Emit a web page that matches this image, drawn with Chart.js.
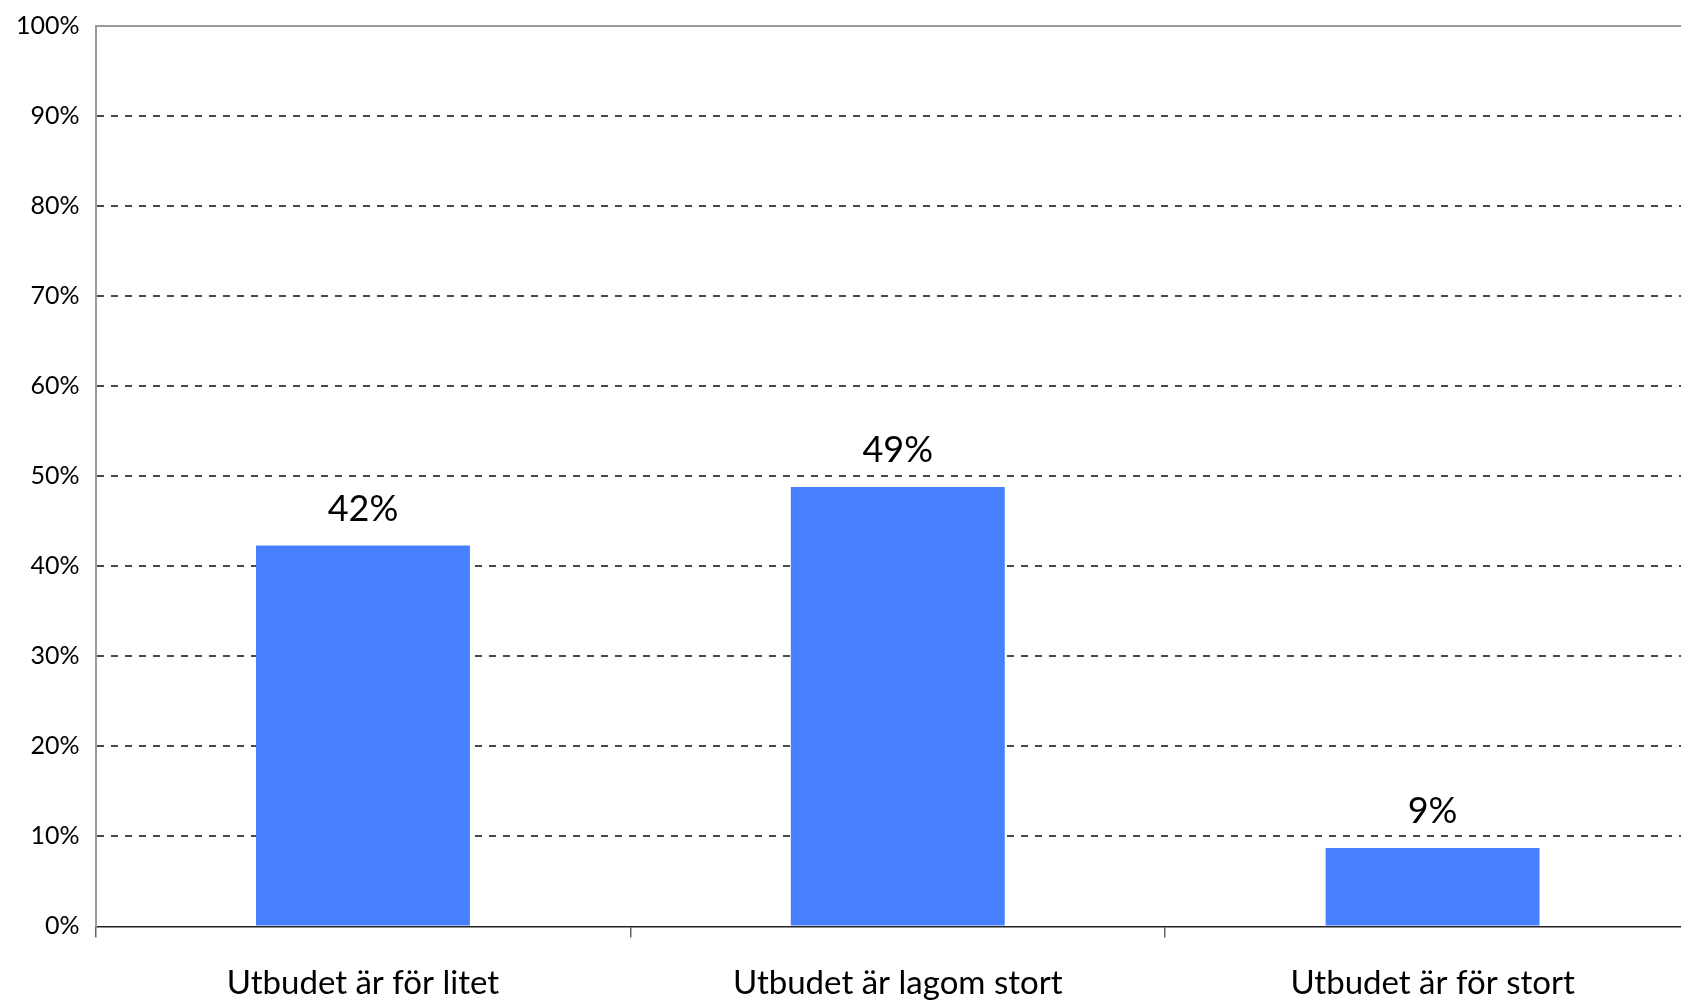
<!DOCTYPE html>
<html><head><meta charset="utf-8">
<script src="https://cdn.jsdelivr.net/npm/chart.js@4/dist/chart.umd.min.js"></script>
<style>
html,body{margin:0;padding:0;background:#fff;overflow:hidden;}
#wrap{position:absolute;left:0;top:0;width:1700px;height:1003px;}
</style></head><body>
<div id="wrap"><canvas id="c"></canvas></div>
<script>
const categories = ["Utbudet är för litet", "Utbudet är lagom stort", "Utbudet är för stort"];
const values = [42.3, 48.8, 8.7];
const valueLabels = ["42%", "49%", "9%"];
const yTicks = [0, 10, 20, 30, 40, 50, 60, 70, 80, 90, 100];

const FONT = "Lato, 'Open Sans', sans-serif";

const labelPlugin = {
  id: 'valueLabels',
  afterDatasetsDraw(chart) {
    const ctx = chart.ctx;
    const meta = chart.getDatasetMeta(0);
    ctx.save();
    ctx.font = "36px " + FONT;
    ctx.fillStyle = "#000";
    ctx.textAlign = "center";
    ctx.textBaseline = "alphabetic";
    meta.data.forEach((bar, i) => {
      ctx.fillText(valueLabels[i], bar.x, bar.y - 25);
    });
    ctx.restore();
  },
  beforeDatasetsDraw(chart) {
    const {ctx, chartArea} = chart;
    ctx.save();
    ctx.strokeStyle = "#9a9a9a";
    ctx.lineWidth = 2;
    ctx.beginPath();
    ctx.moveTo(chartArea.left, chartArea.top);
    ctx.lineTo(chartArea.right, chartArea.top);
    ctx.stroke();
    ctx.restore();
  }
};

new Chart(document.getElementById('c'), {
  type: 'bar',
  data: {
    labels: categories,
    datasets: [{
      data: values,
      backgroundColor: '#4680ff',
      borderWidth: 0,
      barPercentage: 0.4,
      categoryPercentage: 1.0
    }]
  },
  options: {
    responsive: true,
    maintainAspectRatio: false,
    animation: false,
    layout: { padding: { top: 0, left: 0, right: 0, bottom: -26 } },
    plugins: { legend: { display: false }, tooltip: { enabled: false } },
    scales: {
      x: {
        offset: true,
        grid: { offset: true, drawOnChartArea: false, drawTicks: true, tickLength: 11, color: '#666', lineWidth: 1.5 },
        border: { display: true, color: '#222', width: 1.5 },
        ticks: { color: '#000', font: { family: FONT, size: 33 }, padding: 26, maxRotation: 0 }
      },
      y: {
        min: 0, max: 100,
        afterBuildTicks(axis) { axis.ticks = yTicks.map(v => ({ value: v })); },
        grid: {
          drawTicks: false,
          color: (c) => (c.tick && (c.tick.value === 0 || c.tick.value === 100)) ? 'rgba(0,0,0,0)' : '#4a4a4a',
          lineWidth: 2
        },
        border: { display: true, color: '#9a9a9a', width: 2, dash: [7, 7] },
        ticks: {
          color: '#000', font: { family: FONT, size: 25, lineHeight: 0.8 }, padding: 16,
          callback: (v) => v + '%'
        }
      }
    }
  },
  plugins: [labelPlugin]
});
</script>
</body></html>
